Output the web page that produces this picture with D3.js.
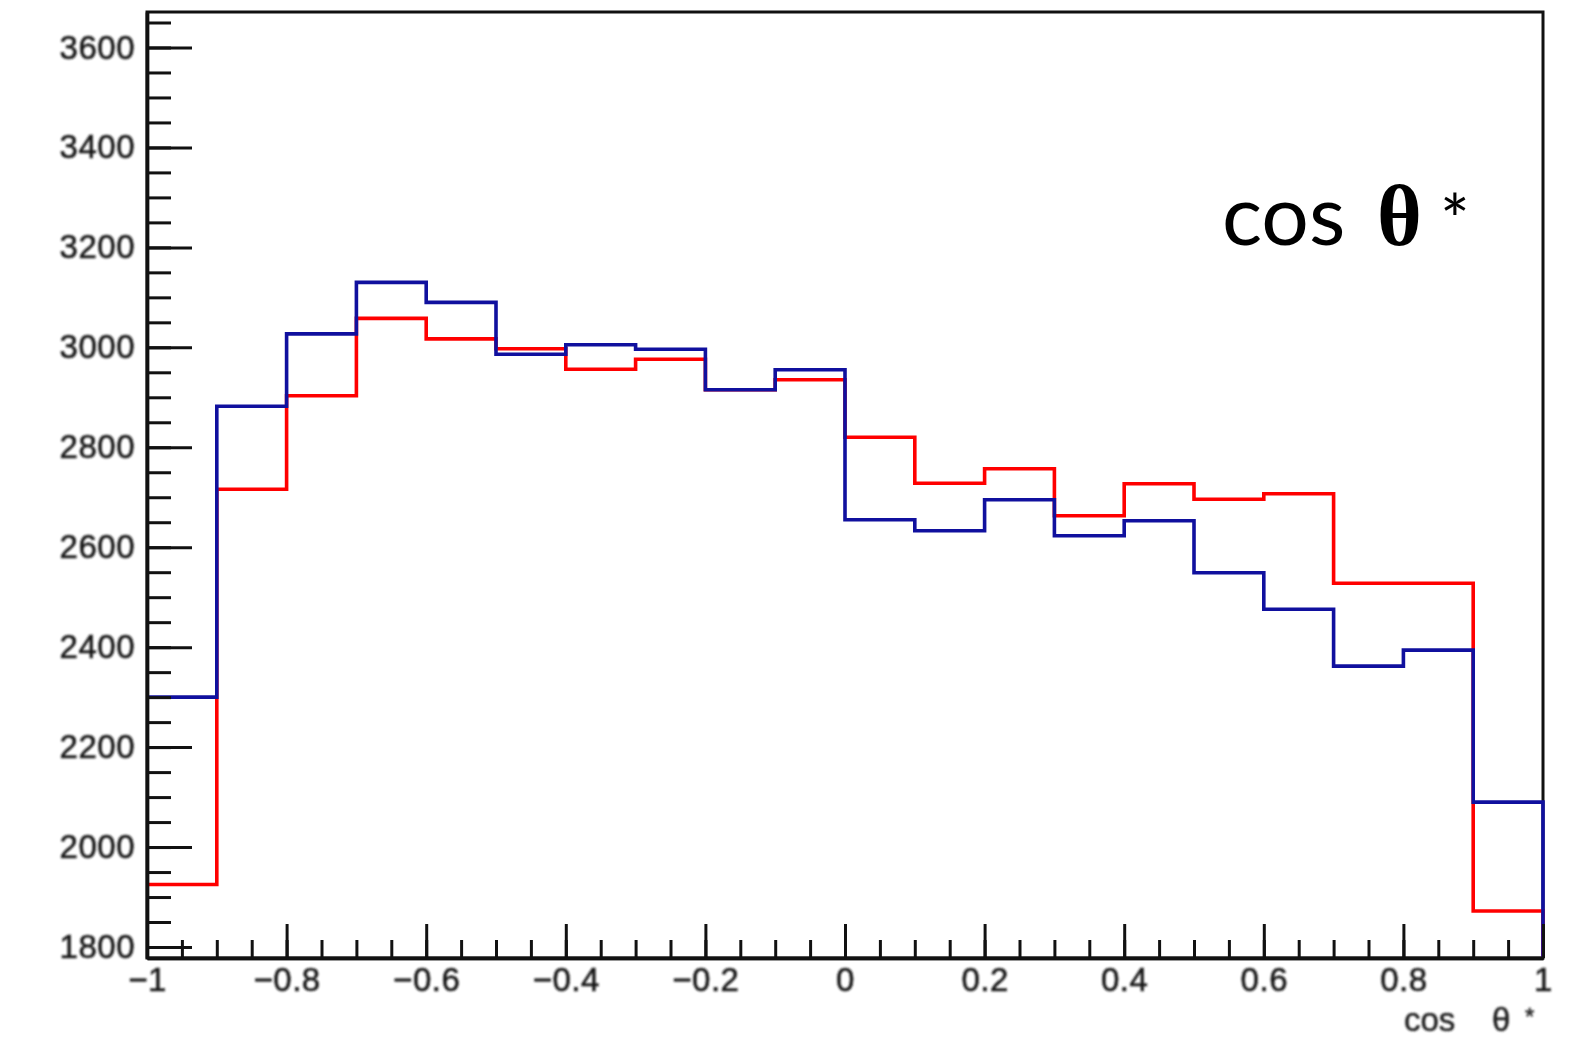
<!DOCTYPE html>
<html>
<head>
<meta charset="utf-8">
<script src="https://cdn.jsdelivr.net/npm/d3@7/dist/d3.min.js"></script>
<style>
  html, body { margin: 0; padding: 0; background: #fff; }
  svg { display: block; }
</style>
</head>
<body>
<svg id="chart" width="1582" height="1040"></svg>
<script>
// Bin edges of the cos(theta*) histogram (20 bins from -1 to 1)
const binEdges = [-1, -0.9, -0.8, -0.7, -0.6, -0.5, -0.4, -0.3, -0.2, -0.1, 0,
                  0.1, 0.2, 0.3, 0.4, 0.5, 0.6, 0.7, 0.8, 0.9, 1];

// Bin contents, red histogram
const redCounts = [1925, 2716, 2903, 3058, 3017, 2997, 2956, 2976, 2915, 2935,
                   2820, 2728, 2757, 2663, 2727, 2696, 2707, 2528, 2528, 1872];

// Bin contents, blue histogram
const blueCounts = [2300, 2882, 3027, 3130, 3090, 2986, 3005, 2996, 2915, 2955,
                    2655, 2633, 2695, 2623, 2653, 2549, 2476, 2362, 2394, 2090];

// Axis ticks and labels
const yTicks = [1800, 2000, 2200, 2400, 2600, 2800, 3000, 3200, 3400, 3600];
const yTickLabels = ["1800", "2000", "2200", "2400", "2600", "2800", "3000", "3200", "3400", "3600"];
const xTicks = [-1, -0.8, -0.6, -0.4, -0.2, 0, 0.2, 0.4, 0.6, 0.8, 1];
const xTickLabels = ["\u22121", "\u22120.8", "\u22120.6", "\u22120.4", "\u22120.2", "0", "0.2", "0.4", "0.6", "0.8", "1"];

const yDomain = [1778, 3671];
const xDomain = [-1, 1];

const svg = d3.select("#chart");

const defs = svg.append("defs");
defs.append("filter").attr("id", "soft")
  .attr("x", "-10%").attr("y", "-20%").attr("width", "120%").attr("height", "140%")
  .append("feGaussianBlur").attr("stdDeviation", 0.8);

const x = d3.scaleLinear().domain(xDomain).range([147, 1543]);
const y = d3.scaleLinear().domain(yDomain).range([958, 12]);

// Frame
svg.append("rect")
  .attr("x", x(xDomain[0])).attr("y", y(yDomain[1]))
  .attr("width", x(xDomain[1]) - x(xDomain[0]))
  .attr("height", y(yDomain[0]) - y(yDomain[1]))
  .attr("fill", "none").attr("stroke", "#111").attr("stroke-width", 3);

// Histogram outline as a step path from the bin edges; the last bin drops to the baseline
function stepPoints(counts) {
  const pts = [];
  counts.forEach((c, i) => {
    pts.push([x(binEdges[i]), y(c)]);
    pts.push([x(binEdges[i + 1]), y(c)]);
  });
  pts.push([x(binEdges[binEdges.length - 1]), y(yDomain[0])]);
  return pts;
}
const line = d3.line();

svg.append("path").attr("d", line(stepPoints(redCounts)))
  .attr("fill", "none").attr("stroke", "#ff0000").attr("stroke-width", 3.6)
  .attr("stroke-linejoin", "miter");
svg.append("path").attr("d", line(stepPoints(blueCounts)))
  .attr("fill", "none").attr("stroke", "#10109e").attr("stroke-width", 3.6)
  .attr("stroke-linejoin", "miter");

// Axes drawn on top, ticks pointing into the frame
const labelFont = "'Liberation Sans', Arial, sans-serif";

const yMinor = svg.append("g").attr("transform", `translate(${x(xDomain[0])},0)`)
  .call(d3.axisLeft(y).tickValues(d3.range(1800, 3651, 50)).tickSize(-24).tickSizeOuter(0).tickFormat(""));
const yMajor = svg.append("g").attr("transform", `translate(${x(xDomain[0])},0)`)
  .call(d3.axisLeft(y).tickValues(yTicks).tickSize(-45).tickSizeOuter(0).tickPadding(12)
    .tickFormat((d, i) => yTickLabels[i]));

const xMinor = svg.append("g").attr("transform", `translate(0,${y(yDomain[0])})`)
  .call(d3.axisBottom(x).tickValues(d3.range(-20, 21).map(k => k * 0.05)).tickSize(-18).tickSizeOuter(0).tickFormat(""));
const xMajor = svg.append("g").attr("transform", `translate(0,${y(yDomain[0])})`)
  .call(d3.axisBottom(x).tickValues(xTicks).tickSize(-34).tickSizeOuter(0).tickPadding(10)
    .tickFormat((d, i) => xTickLabels[i]));

[yMinor, yMajor, xMinor, xMajor].forEach(g => {
  g.selectAll(".domain").attr("stroke", "#111").attr("stroke-width", 3.4);
  g.selectAll(".tick line").attr("stroke", "#111").attr("stroke-width", 3);
  g.selectAll(".tick text")
    .attr("font-family", labelFont).attr("font-size", 33)
    .attr("letter-spacing", 0.5)
    .attr("fill", "#1a1a1a").attr("stroke", "#1a1a1a").attr("stroke-width", 0.6)
    .attr("filter", "url(#soft)");
});

// Axis title
const title = svg.append("text")
  .attr("font-family", labelFont).attr("font-size", 33).attr("fill", "#222")
  .attr("stroke", "#222").attr("stroke-width", 0.5)
  .attr("filter", "url(#soft)")
  .attr("y", 1031);
title.append("tspan").attr("x", 1404).text("cos");
title.append("tspan").attr("x", 1492).text("\u03b8");
title.append("tspan").attr("x", 1525).attr("font-size", 24).attr("dy", -6).text("*");

// Annotation
const note = svg.append("text").attr("y", 245).attr("fill", "#000");
note.append("tspan").attr("x", 1222)
  .attr("font-family", "Lato, 'Open Sans', sans-serif").attr("font-size", 84)
  .text("cos");
note.append("tspan").attr("x", 1377)
  .attr("font-family", "'Liberation Serif', 'DejaVu Serif', serif").attr("font-weight", "bold").attr("font-size", 86)
  .text("\u03b8");
note.append("tspan").attr("x", 1440)
  .attr("font-family", "Lato, 'Open Sans', sans-serif").attr("font-size", 70)
  .text("*");
</script>
</body>
</html>
